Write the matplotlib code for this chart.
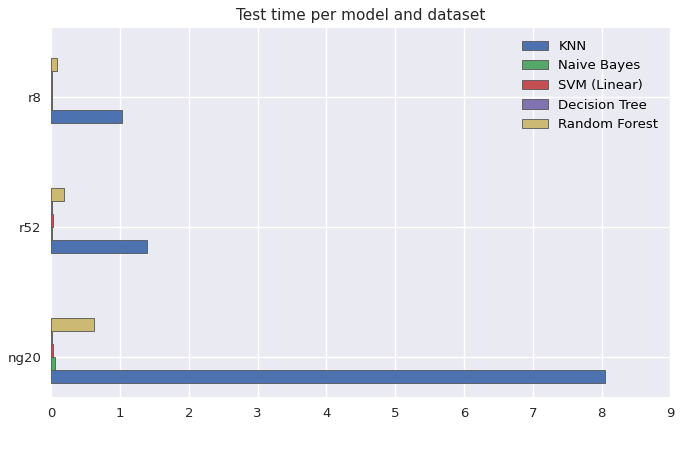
import matplotlib
matplotlib.use("Agg")
import matplotlib.pyplot as plt
import numpy as np

datasets = ["ng20", "r52", "r8"]
models = ["KNN", "Naive Bayes", "SVM (Linear)", "Decision Tree", "Random Forest"]
knn = [8.05, 1.39, 1.03]
nb = [0.06, 0.012, 0.006]
svm = [0.03, 0.02, 0.01]
dt = [0.012, 0.01, 0.005]
rf = [0.62, 0.19, 0.09]
series = [knn, nb, svm, dt, rf]
colors = ["#4C72B0", "#55A868", "#C44E52", "#8172B2", "#CCB974"]

fig = plt.figure(figsize=(6.84, 4.5), dpi=100)
ax = fig.add_axes([0.075, 0.118, 0.905, 0.82])
ax.set_facecolor("#EAEAF2")
ax.grid(True, color="white", linewidth=1)
ax.set_axisbelow(True)
for s in ax.spines.values():
    s.set_visible(False)
y = np.arange(len(datasets))
w = 0.1
for i, (vals, m, c) in enumerate(zip(series, models, colors)):
    ax.barh(y + (i - 1.5) * w, vals, height=w, color=c, edgecolor="#555555", linewidth=0.6, label=m)
ax.set_yticks(y)
ax.set_yticklabels(datasets)
ax.set_ylim(-0.31, 2.53)
ax.set_xlim(0, 9)
ax.set_xticks(range(10))
ax.tick_params(length=0, labelsize=9.5, colors="#262626", pad=7)
ax.set_title("Test time per model and dataset", fontsize=11, color="#262626")
ax.legend(loc="upper right", frameon=False, fontsize=9.5)
fig.savefig("out.png")
